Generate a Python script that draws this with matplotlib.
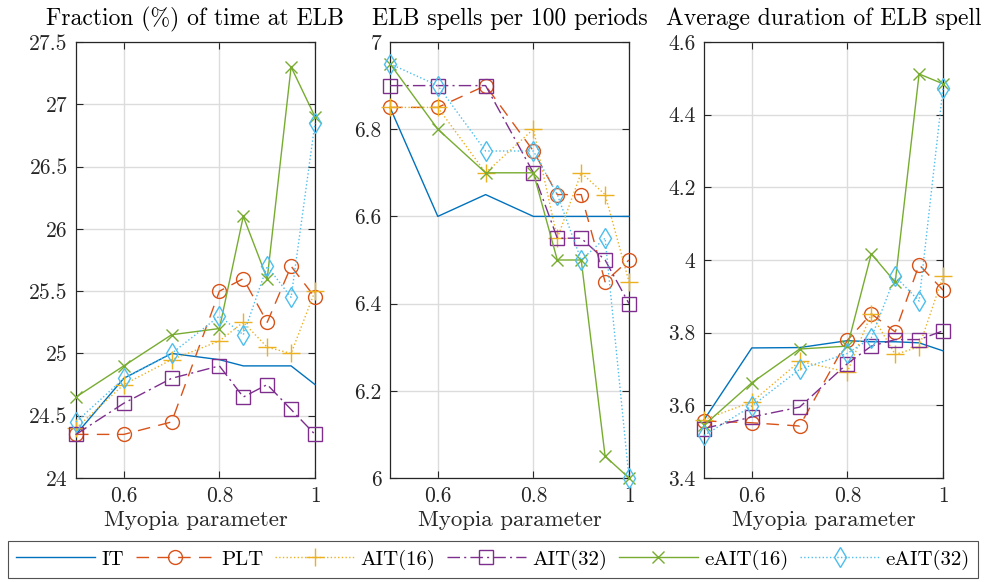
import matplotlib
matplotlib.use("Agg")
import matplotlib.pyplot as plt
from matplotlib.ticker import FuncFormatter

plt.rcParams['font.family'] = 'serif'
plt.rcParams['font.serif'] = ['cmr10']
plt.rcParams['mathtext.fontset'] = 'cm'
plt.rcParams['axes.formatter.use_mathtext'] = True
plt.rcParams['axes.unicode_minus'] = False

# myopia parameter values
myopia = [0.5, 0.6, 0.7, 0.8, 0.85, 0.9, 0.95, 1.0]

series_names = ["IT", "PLT", "AIT(16)", "AIT(32)", "eAIT(16)", "eAIT(32)"]

# Fraction (%) of time at ELB
frac_it = [24.35, 24.8, 25.0, 24.95, 24.9, 24.9, 24.9, 24.75]
frac_plt = [24.35, 24.35, 24.45, 25.5, 25.6, 25.25, 25.7, 25.45]
frac_ait16 = [24.4, 24.75, 24.95, 25.1, 25.25, 25.05, 25.0, 25.5]
frac_ait32 = [24.35, 24.6, 24.8, 24.9, 24.65, 24.75, 24.55, 24.35]
frac_eait16 = [24.65, 24.9, 25.15, 25.2, 26.1, 25.6, 27.3, 26.9]
frac_eait32 = [24.45, 24.8, 25.0, 25.3, 25.15, 25.7, 25.45, 26.85]

# ELB spells per 100 periods
spell_it = [6.85, 6.6, 6.65, 6.6, 6.6, 6.6, 6.6, 6.6]
spell_plt = [6.85, 6.85, 6.9, 6.75, 6.65, 6.65, 6.45, 6.5]
spell_ait16 = [6.85, 6.85, 6.7, 6.8, 6.55, 6.7, 6.65, 6.45]
spell_ait32 = [6.9, 6.9, 6.9, 6.7, 6.55, 6.55, 6.5, 6.4]
spell_eait16 = [6.95, 6.8, 6.7, 6.7, 6.5, 6.5, 6.05, 6.0]
spell_eait32 = [6.95, 6.9, 6.75, 6.75, 6.65, 6.5, 6.55, 6.0]

# Average duration of ELB spell
dur_it = [3.56, 3.758, 3.759, 3.778, 3.775, 3.775, 3.772, 3.75]
dur_plt = [3.557, 3.552, 3.543, 3.779, 3.852, 3.802, 3.987, 3.917]
dur_ait16 = [3.561, 3.609, 3.721, 3.692, 3.852, 3.74, 3.761, 3.955]
dur_ait32 = [3.536, 3.568, 3.595, 3.715, 3.763, 3.781, 3.781, 3.805]
dur_eait16 = [3.545, 3.662, 3.755, 3.763, 4.017, 3.939, 4.512, 4.485]
dur_eait32 = [3.517, 3.598, 3.699, 3.743, 3.786, 3.955, 3.887, 4.473]

colors = ['#0072BD', '#D95319', '#EDB120', '#7E2F8E', '#77AC30', '#4DBEEE']
styles = ['-', (0, (9, 6)), ':', (0, (9, 3, 1.5, 3)), '-', ':']
markers = [None, 'o', '+', 's', 'x', 'd']
msizes = [0, 10, 13, 10, 8, 10]

panels = [
    ("Fraction (%) of time at ELB",
     [frac_it, frac_plt, frac_ait16, frac_ait32, frac_eait16, frac_eait32],
     (24, 27.5), [24, 24.5, 25, 25.5, 26, 26.5, 27, 27.5]),
    ("ELB spells per 100 periods",
     [spell_it, spell_plt, spell_ait16, spell_ait32, spell_eait16, spell_eait32],
     (6, 7), [6, 6.2, 6.4, 6.6, 6.8, 7]),
    ("Average duration of ELB spell",
     [dur_it, dur_plt, dur_ait16, dur_ait32, dur_eait16, dur_eait32],
     (3.4, 4.6), [3.4, 3.6, 3.8, 4, 4.2, 4.4, 4.6]),
]

W, H = 985, 582
fig = plt.figure(figsize=(W / 100, H / 100), dpi=100)

lefts = [76, 390, 704]
ax_w = 239
top, bottom = 42, 478
fmt = FuncFormatter(lambda v, p: '%g' % round(v, 3))

handles = []
for k, (title, data, ylim, yticks) in enumerate(panels):
    ax = fig.add_axes([lefts[k] / W, 1 - bottom / H, ax_w / W, (bottom - top) / H])
    for i in range(len(series_names)):
        h, = ax.plot(myopia, data[i], color=colors[i], linestyle=styles[i],
                     linewidth=1.0, marker=markers[i], markersize=msizes[i],
                     markerfacecolor='none', markeredgewidth=1.0,
                     label=series_names[i], clip_on=False, zorder=3)
        if k == 0:
            handles.append(h)
    ax.set_xlim(0.5, 1.0)
    ax.set_ylim(*ylim)
    ax.set_xticks([0.6, 0.8, 1.0])
    ax.set_yticks(yticks)
    ax.xaxis.set_major_formatter(fmt)
    ax.yaxis.set_major_formatter(fmt)
    ax.grid(True, color='#dcdcdc', linewidth=1.0)
    ax.set_axisbelow(True)
    ax.tick_params(direction='in', length=5, width=0.8, top=True, right=True,
                   labelsize=15.5, colors='#262626', pad=6)
    for s in ax.spines.values():
        s.set_color('#262626')
        s.set_linewidth(0.9)
    ax.set_title(title, fontsize=17, color='#000000', pad=12)
    ax.set_xlabel("Myopia parameter", fontsize=16.5, color='#262626', labelpad=3)

leg = fig.legend(handles, series_names, loc='lower left', ncol=6, mode='expand',
                 bbox_to_anchor=(8 / W, 4 / H, 970 / W, 36 / H),
                 fontsize=15, handlelength=3.8, handletextpad=0.3,
                 numpoints=1, fancybox=False, borderaxespad=0)
leg.get_frame().set_edgecolor('#262626')
leg.get_frame().set_linewidth(0.8)

fig.savefig("out.png", dpi=100)
